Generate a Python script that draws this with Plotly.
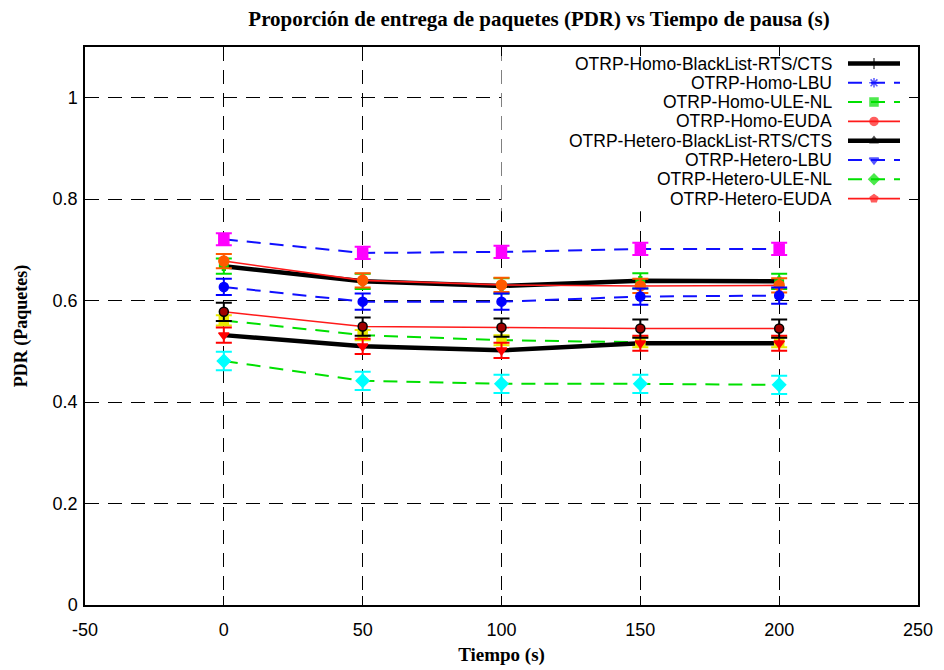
import plotly.graph_objects as go

# Pause time (s)
pause_time = [0, 50, 100, 150, 200]
x_tick_vals = [-50, 0, 50, 100, 150, 200, 250]
x_tick_text = ["-50", "0", "50", "100", "150", "200", "250"]

# Packet delivery ratio per protocol variant
homo_blacklist = [0.668, 0.638, 0.629, 0.639, 0.638]
homo_lbu = [0.721, 0.694, 0.696, 0.702, 0.702]
homo_ule_nl = [0.561, 0.532, 0.522, 0.518, 0.518]
homo_euda = [0.678, 0.640, 0.631, 0.629, 0.630]
hetero_blacklist = [0.532, 0.510, 0.502, 0.516, 0.516]
hetero_lbu = [0.627, 0.598, 0.598, 0.608, 0.610]
hetero_ule_nl = [0.481, 0.442, 0.436, 0.436, 0.434]
hetero_euda = [0.578, 0.549, 0.547, 0.545, 0.545]

# Half-width of the confidence interval per variant
homo_blacklist_err = [0.015, 0.015, 0.015, 0.015, 0.015]
homo_lbu_err = [0.012, 0.012, 0.012, 0.012, 0.012]
homo_ule_nl_err = [0.010, 0.010, 0.010, 0.010, 0.010]
homo_euda_err = [0.014, 0.014, 0.014, 0.014, 0.014]
hetero_blacklist_err = [0.015, 0.015, 0.015, 0.015, 0.015]
hetero_lbu_err = [0.016, 0.016, 0.016, 0.016, 0.016]
hetero_ule_nl_err = [0.018, 0.018, 0.018, 0.018, 0.018]
hetero_euda_err = [0.018, 0.018, 0.018, 0.018, 0.018]

series_names = [
    "OTRP-Homo-BlackList-RTS/CTS",
    "OTRP-Homo-LBU",
    "OTRP-Homo-ULE-NL",
    "OTRP-Homo-EUDA",
    "OTRP-Hetero-BlackList-RTS/CTS",
    "OTRP-Hetero-LBU",
    "OTRP-Hetero-ULE-NL",
    "OTRP-Hetero-EUDA",
]
series_values = [homo_blacklist, homo_lbu, homo_ule_nl, homo_euda,
                 hetero_blacklist, hetero_lbu, hetero_ule_nl, hetero_euda]
series_errors = [homo_blacklist_err, homo_lbu_err, homo_ule_nl_err, homo_euda_err,
                 hetero_blacklist_err, hetero_lbu_err, hetero_ule_nl_err, hetero_euda_err]

BLACK = "#000000"
BLUE = "#1010ff"
GREEN = "#00e000"
RED = "#ff1a1a"
DASH = "14px,9px"

line_styles = [
    dict(color=BLACK, width=4.5, dash="solid"),
    dict(color=BLUE, width=2, dash=DASH),
    dict(color=GREEN, width=2, dash=DASH),
    dict(color=RED, width=1.6, dash="solid"),
    dict(color=BLACK, width=4.5, dash="solid"),
    dict(color=BLUE, width=2, dash=DASH),
    dict(color=GREEN, width=2, dash=DASH),
    dict(color=RED, width=1.6, dash="solid"),
]
legend_symbols = ["cross-thin", "asterisk", "square", "circle",
                  "triangle-up", "triangle-down", "diamond", "pentagon"]

# Error-bar point styles (colour, symbol)
errbar_styles = [
    ("#00e000", "cross"),
    ("#ff00ff", "square"),
    ("#e8e800", "square"),
    ("#ff5a00", "circle"),
    ("#ff0000", "triangle-down"),
    ("#0000ff", "circle"),
    ("#00ffff", "diamond"),
    ("#000000", "circle"),
]
errbar_marker_fill = [None, None, None, None, None, None, None, "#a00000"]
errbar_marker_size = [7, 10, 9, 10, 9, 9, 10, 9]

fig = go.Figure()

# Lines
for name, vals, ls in zip(series_names, series_values, line_styles):
    fig.add_trace(go.Scatter(
        x=pause_time, y=vals, mode="lines", name=name,
        line=ls, showlegend=False, hoverinfo="skip",
    ))

# Error bars with markers
for vals, errs, (col, sym), fill, size in zip(series_values, series_errors,
                                               errbar_styles, errbar_marker_fill,
                                               errbar_marker_size):
    fig.add_trace(go.Scatter(
        x=pause_time, y=vals, mode="markers", showlegend=False,
        marker=dict(color=fill or col, symbol=sym, size=size,
                    line=dict(color=col, width=1.5)),
        error_y=dict(type="data", array=errs, visible=True,
                     color=col, thickness=2, width=8),
    ))

# Key drawn on a pixel-space overlay (x: 85..918, y: 605..47)
row_y = [63.5, 82.8, 102.1, 121.4, 140.7, 160.0, 179.3, 198.6]
for name, ls, sym, y in zip(series_names, line_styles, legend_symbols, row_y):
    fig.add_trace(go.Scatter(
        x=[848, 874, 900], y=[y, y, y], mode="lines+markers",
        xaxis="x2", yaxis="y2", showlegend=False, hoverinfo="skip",
        line=ls,
        marker=dict(size=[0, 8, 0], color=ls["color"], symbol=sym,
                    line=dict(color=ls["color"], width=1.5)),
    ))
    fig.add_annotation(
        x=834, y=y, xref="x2", yref="y2", text=name, showarrow=False,
        xanchor="right", yanchor="middle",
        font=dict(family="Liberation Sans", size=17.5, color="black"),
    )

axis_common = dict(
    showline=True, linecolor="black", linewidth=1.5, mirror="ticks",
    ticks="inside", ticklen=9, tickwidth=1.2, tickcolor="black",
    showgrid=True, gridcolor="black", gridwidth=1.2, griddash="14px,9px",
    zeroline=False, automargin=False,
    tickfont=dict(family="Liberation Sans", size=18, color="black"),
)

fig.update_layout(
    width=944, height=670,
    margin=dict(l=85, r=26, t=47, b=65),
    paper_bgcolor="white", plot_bgcolor="white",
    title=dict(
        text="<b>Proporción de entrega de paquetes (PDR) vs Tiempo de pausa (s)</b>",
        x=0.571, xanchor="center", y=0.972, yanchor="middle",
        font=dict(family="Liberation Serif", size=21, color="black"),
    ),
    xaxis=dict(
        range=[-50, 250], tickvals=x_tick_vals, ticktext=x_tick_text,
        ticklabelstandoff=8,
        title=dict(text="<b>Tiempo (s)</b>", standoff=8,
                   font=dict(family="Liberation Serif", size=19, color="black")),
        **axis_common,
    ),
    yaxis=dict(
        range=[0, 1.1], tick0=0, dtick=0.2,
        ticklabelstandoff=2,
        title=dict(text="<b>PDR (Paquetes)</b>", standoff=20,
                   font=dict(family="Liberation Serif", size=18, color="black")),
        **axis_common,
    ),
    xaxis2=dict(range=[85, 918], overlaying="x", visible=False),
    yaxis2=dict(range=[605, 47], overlaying="y", visible=False),
    shapes=[
        dict(type="rect", xref="x", yref="y", x0=100, x1=250, y0=0.776, y1=1.1,
             fillcolor="white", line=dict(width=0), layer="between"),
    ],
)

fig.write_html("out.html")
